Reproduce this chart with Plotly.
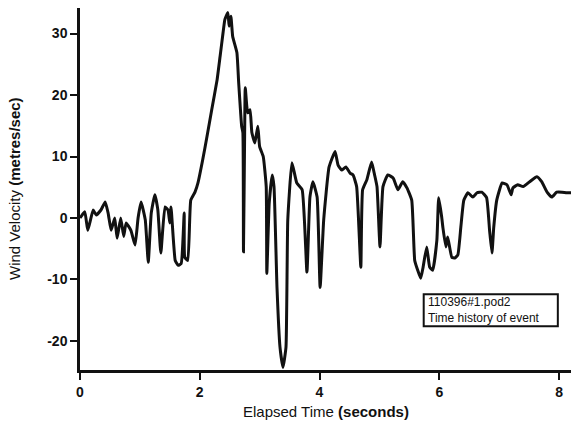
import plotly.graph_objects as go

# Elapsed time (seconds) and wind velocity (metres/sec)
time_s = [
    0.00, 0.08, 0.13, 0.22, 0.27, 0.35, 0.42, 0.47, 0.52, 0.58, 0.62, 0.68, 0.73, 0.77,
    0.85, 0.92, 0.97, 1.02, 1.09, 1.14, 1.19, 1.25, 1.30, 1.35, 1.42, 1.47, 1.50, 1.52,
    1.59, 1.64, 1.69, 1.74, 1.75, 1.80, 1.85, 1.92, 1.97,
    2.05, 2.12, 2.20, 2.29, 2.34, 2.39, 2.42, 2.47, 2.49, 2.52, 2.55, 2.62, 2.65, 2.70,
    2.72, 2.73, 2.75, 2.76, 2.80, 2.84, 2.87, 2.92, 2.97, 3.00, 3.06, 3.11, 3.12, 3.16,
    3.21, 3.24, 3.29, 3.34, 3.39, 3.44, 3.47, 3.54, 3.62, 3.71, 3.79, 3.84, 3.89, 3.96,
    4.01, 4.07, 4.16, 4.26, 4.31, 4.37, 4.44, 4.51, 4.56, 4.62, 4.69, 4.72, 4.79, 4.87,
    4.92, 4.96, 5.01, 5.06, 5.14, 5.23, 5.31, 5.39, 5.46, 5.54, 5.59, 5.64, 5.69, 5.73,
    5.79, 5.84, 5.89, 5.96, 5.99, 6.04, 6.06, 6.11, 6.14, 6.21, 6.26, 6.31, 6.36, 6.41,
    6.48, 6.56, 6.63, 6.71, 6.79, 6.84, 6.88, 6.91, 6.96, 7.05, 7.13, 7.20, 7.23, 7.31,
    7.40, 7.51, 7.63, 7.71, 7.80, 7.88, 7.96, 8.05, 8.13, 8.21,
]
velocity = [
    0.0, 1.0, -2.0, 1.3, 0.5, 1.3, 2.6, 0.8, -2.0, 0.0, -3.3, 0.0, -3.0, -0.8,
    -2.0, -4.4, 0.0, 2.6, -0.3, -7.2, 0.8, 3.8, 1.3, -5.7, 1.8, 1.3, -0.8, 1.8,
    -6.9, -7.7, -7.4, 0.8, -6.4, -6.9, 2.9, 4.2, 5.7,
    9.5, 13.2, 17.6, 22.5, 26.3, 30.2, 32.3, 33.4, 31.2, 32.8, 29.5, 26.9, 22.0, 14.9,
    13.9, -5.5, 13.9, 21.2, 17.1, 17.6, 13.9, 12.2, 14.9, 11.6, 10.0, 5.1, -9.0, 2.4,
    7.0, 5.1, -11.3, -21.0, -24.3, -21.0, -0.3, 9.0, 5.7, 4.6, -8.8, 3.4, 5.9, 3.4,
    -11.3, -0.3, 8.3, 10.8, 8.6, 7.8, 8.3, 7.3, 7.0, 5.1, -8.0, 4.6, 6.2, 9.1,
    7.0, 5.1, -4.7, 5.1, 7.0, 6.5, 4.6, 5.9, 4.9, 2.9, -6.9, -8.5, -9.8, -8.0,
    -4.7, -8.0, -8.5, -3.6, 3.3, 0.2, -1.5, -4.7, -3.1, -6.4, -6.5, -6.0, -1.5, 2.9,
    4.1, 3.4, 4.1, 4.2, 3.3, -2.0, -5.7, -1.5, 2.9, 5.7, 5.4, 3.8, 4.9, 5.4,
    5.1, 5.9, 6.7, 5.9, 4.2, 3.4, 4.2, 4.2, 4.1, 4.1,
]

x_ticks = [0, 2, 4, 6, 8]
y_ticks = [-20, -10, 0, 10, 20, 30]
legend_lines = ["110396#1.pod2", "Time history of event"]

FONT = "Arial, Liberation Sans, sans-serif"

fig = go.Figure()
fig.add_trace(go.Scatter(
    x=time_s, y=velocity, mode="lines",
    line=dict(color="#111111", width=3, shape="spline", smoothing=0.4),
    showlegend=False, hoverinfo="skip",
))

fig.update_layout(
    template="none",
    width=573, height=428,
    margin=dict(l=80, r=2, t=8, b=58, autoexpand=False),
    paper_bgcolor="white", plot_bgcolor="white",
    font=dict(family=FONT, color="#111111"),
    showlegend=False,
)
fig.update_xaxes(
    range=[0, 8.2], tickvals=x_ticks, ticktext=[str(v) for v in x_ticks],
    showline=True, linecolor="#111111", linewidth=2.5, automargin=False,
    ticks="outside", ticklen=7, tickwidth=2, tickcolor="#111111",
    showgrid=False, zeroline=False,
    tickfont=dict(family=FONT, size=14, color="#111111", weight="bold"),
)
fig.update_yaxes(
    range=[-24.72, 34.15], tickvals=y_ticks, ticktext=[str(v) for v in y_ticks],
    showline=True, linecolor="#111111", linewidth=2.5, automargin=False,
    ticks="outside", ticklen=7, tickwidth=2, tickcolor="#111111",
    showgrid=False, zeroline=False,
    tickfont=dict(family=FONT, size=14, color="#111111", weight="bold"),
)

# axis titles
fig.add_annotation(
    xref="paper", yref="paper", x=0.5, y=0, yshift=-41, yanchor="middle",
    text="Elapsed Time <b>(seconds)</b>", showarrow=False,
    font=dict(family=FONT, size=15, color="#111111"),
)
fig.add_annotation(
    xref="paper", yref="paper", x=0, y=0.5, xshift=-66, xanchor="center",
    text="Wind Velocity <b>(metres/sec)</b>", textangle=-90, showarrow=False,
    font=dict(family=FONT, size=15, color="#111111"),
)

# info box
fig.add_shape(type="rect", xref="x", yref="y", x0=5.74, x1=7.98, y0=-17.6, y1=-12.4,
              line=dict(color="#111111", width=2), fillcolor="white")
fig.add_annotation(xref="x", yref="y", x=5.77, y=-13.66, xanchor="left", yanchor="middle",
                   text=legend_lines[0], showarrow=False,
                   font=dict(family=FONT, size=12, color="#111111"))
fig.add_annotation(xref="x", yref="y", x=5.77, y=-16.3, xanchor="left", yanchor="middle",
                   text=legend_lines[1], showarrow=False,
                   font=dict(family=FONT, size=12, color="#111111"))

fig.write_html("out.html", config={"displayModeBar": False},
               post_script="document.body.style.margin='0px';")
